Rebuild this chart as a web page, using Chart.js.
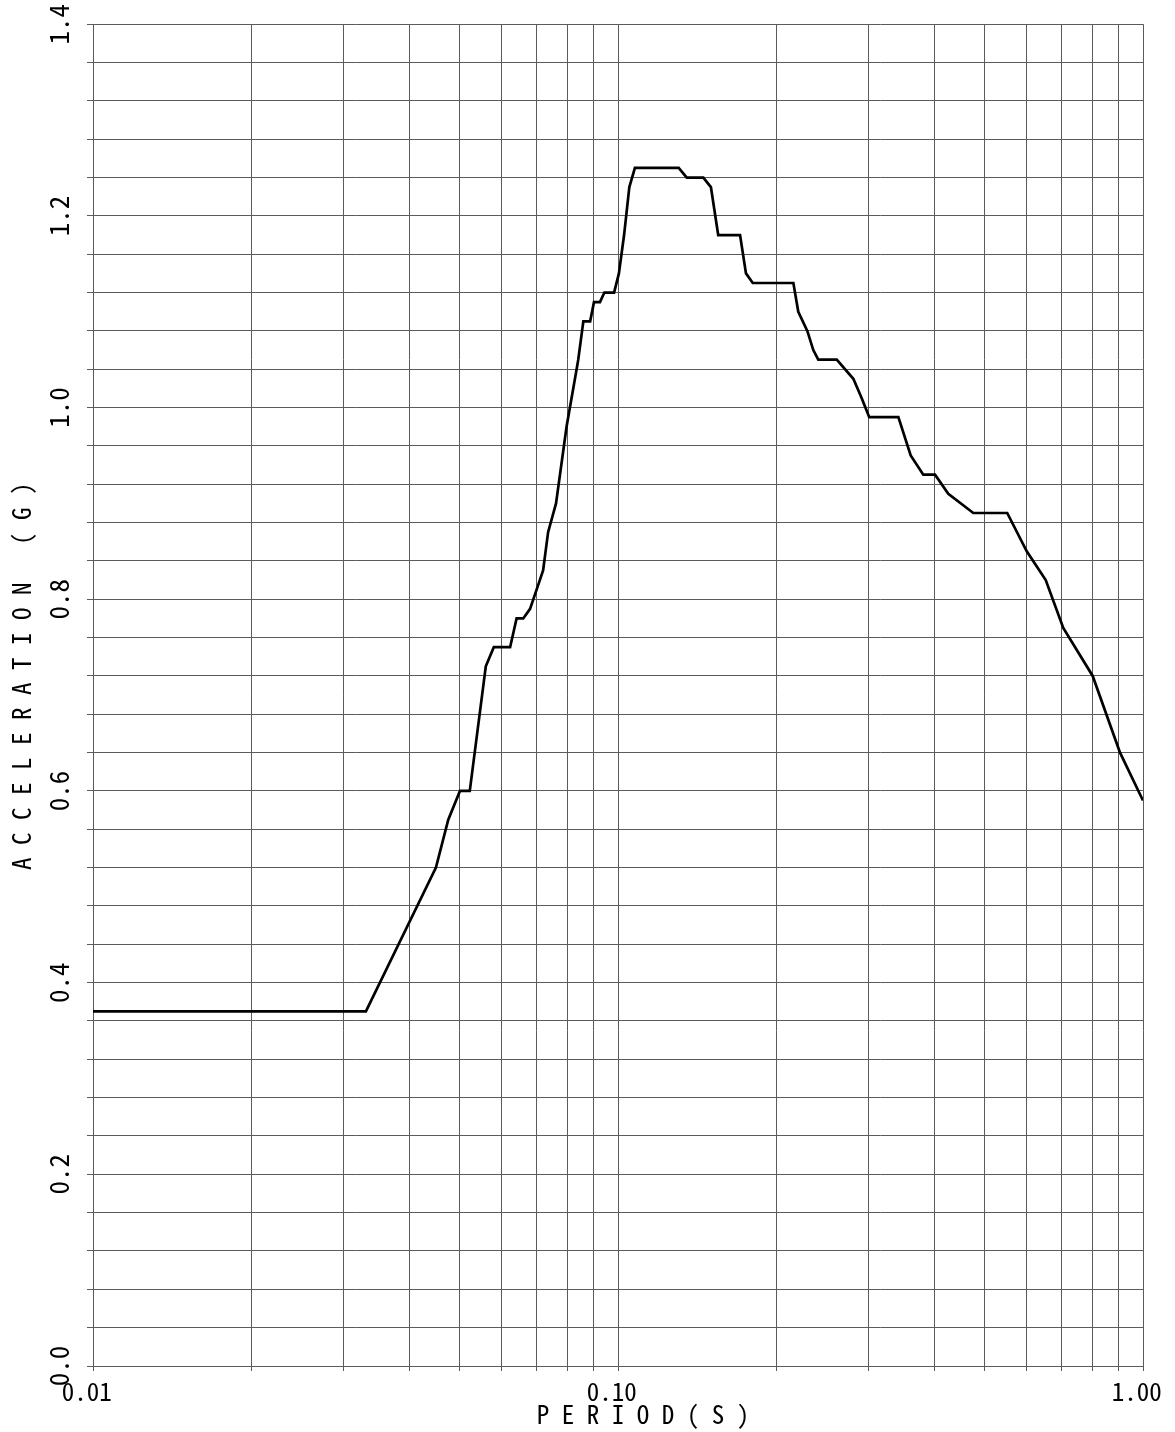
<!DOCTYPE html>
<html>
<head>
  <title>Response Spectrum</title>
  <script src="https://cdn.jsdelivr.net/npm/chart.js@4.4.1/dist/chart.umd.min.js"></script>
  <style>
    body { margin: 0; background: #fff; }
  </style>
</head>
<body>
  <canvas id="chart" width="1175" height="1432"></canvas>

  <script>
    // Spectrum: period (s) and acceleration (g)
    const periods = [0.01, 0.0331, 0.0450, 0.0475, 0.0500, 0.0522, 0.0560, 0.0580, 0.0623, 0.0641,
      0.0660, 0.0680, 0.0720, 0.0736, 0.0762, 0.0798, 0.0834, 0.0840, 0.0859, 0.0885,
      0.0900, 0.0924, 0.0942, 0.0983, 0.1004, 0.1027, 0.1051, 0.1077, 0.1305, 0.1352,
      0.1454, 0.1503, 0.1552, 0.1708, 0.1753, 0.1806, 0.2158, 0.2205, 0.2294, 0.2355,
      0.2407, 0.2610, 0.2807, 0.2911, 0.3010, 0.3420, 0.3610, 0.3815, 0.4017, 0.4257,
      0.4751, 0.5513, 0.6006, 0.6527, 0.7049, 0.8020, 0.9042, 1.0];
    const accels = [0.37, 0.37, 0.52, 0.57, 0.60, 0.60, 0.73, 0.75, 0.75, 0.78,
      0.78, 0.79, 0.83, 0.87, 0.90, 0.98, 1.04, 1.05, 1.09, 1.09,
      1.11, 1.11, 1.12, 1.12, 1.14, 1.18, 1.23, 1.25, 1.25, 1.24,
      1.24, 1.23, 1.18, 1.18, 1.14, 1.13, 1.13, 1.10, 1.08, 1.06,
      1.05, 1.05, 1.03, 1.01, 0.99, 0.99, 0.95, 0.93, 0.93, 0.91,
      0.89, 0.89, 0.85, 0.82, 0.77, 0.72, 0.64, 0.59];

    // log grid lines on the period axis
    const periodGrid = [0.01, 0.02, 0.03, 0.04, 0.05, 0.06, 0.07, 0.08, 0.09,
      0.1, 0.2, 0.3, 0.4, 0.5, 0.6, 0.7, 0.8, 0.9, 1.0];
    const periodTickValues = [0.01, 0.1, 1.0];
    const periodTickLabels = ['0.01', '0.10', '1.00'];
    const accelTickValues = [0.0, 0.2, 0.4, 0.6, 0.8, 1.0, 1.2, 1.4];
    const accelTickLabels = ['0.0', '0.2', '0.4', '0.6', '0.8', '1.0', '1.2', '1.4'];

    const FONT = "'Noto Sans Mono CJK JP', 'DejaVu Sans Mono', monospace";
    const GRID = '#5a5a5a';

    const points = periods.map((p, i) => ({ x: p, y: accels[i] }));

    new Chart(document.getElementById('chart'), {
      type: 'line',
      data: {
        datasets: [{
          data: points,
          borderColor: '#000',
          borderWidth: 2.7,
          pointRadius: 0,
          tension: 0,
          fill: false
        }]
      },
      options: {
        responsive: false,
        animation: false,
        layout: { padding: { top: 24, right: 32, bottom: 0, left: 0 } },
        plugins: {
          legend: { display: false },
          tooltip: { enabled: false }
        },
        scales: {
          x: {
            type: 'logarithmic',
            min: 0.01,
            max: 1.0,
            afterBuildTicks: (scale) => {
              scale.ticks = periodGrid.map(v => ({ value: v }));
            },
            afterFit: (scale) => {
              scale.height = 66;
              // let the end labels hang over the edge like the original
              scale.paddingLeft = 0;
              scale.paddingRight = 0;
            },
            grid: { color: GRID, lineWidth: 1, tickLength: 5, tickColor: GRID },
            border: { color: GRID },
            ticks: {
              autoSkip: false,
              maxRotation: 0,
              padding: 5,
              color: '#000',
              font: { family: FONT, size: 25 },
              callback: (v) => {
                const i = periodTickValues.findIndex(t => Math.abs(t - v) < 1e-9);
                return i >= 0 ? periodTickLabels[i] + ' ' : '';
              }
            },
            title: {
              display: true,
              text: '    P E R I O D ( S )',
              color: '#000',
              font: { family: FONT, size: 25 },
              padding: { top: 0, bottom: 3 }
            }
          },
          y: {
            type: 'linear',
            min: 0,
            max: 1.4,
            afterFit: (scale) => { scale.width = 93; },
            grid: { color: GRID, lineWidth: 1, tickLength: 6, tickColor: GRID },
            border: { color: GRID },
            ticks: {
              stepSize: 0.04,
              autoSkip: false,
              minRotation: 90,
              maxRotation: 90,
              crossAlign: 'center',
              padding: 8,
              color: '#000',
              font: { family: FONT, size: 27 },
              callback: (v) => {
                const i = accelTickValues.findIndex(t => Math.abs(t - v) < 1e-6);
                return i >= 0 ? accelTickLabels[i] : '';
              }
            },
            title: {
              display: true,
              text: '   A C C E L E R A T I O N   ( G )',
              color: '#000',
              font: { family: FONT, size: 25 },
              padding: { top: 6, bottom: 0 }
            }
          }
        }
      }
    });
  </script>
</body>
</html>
